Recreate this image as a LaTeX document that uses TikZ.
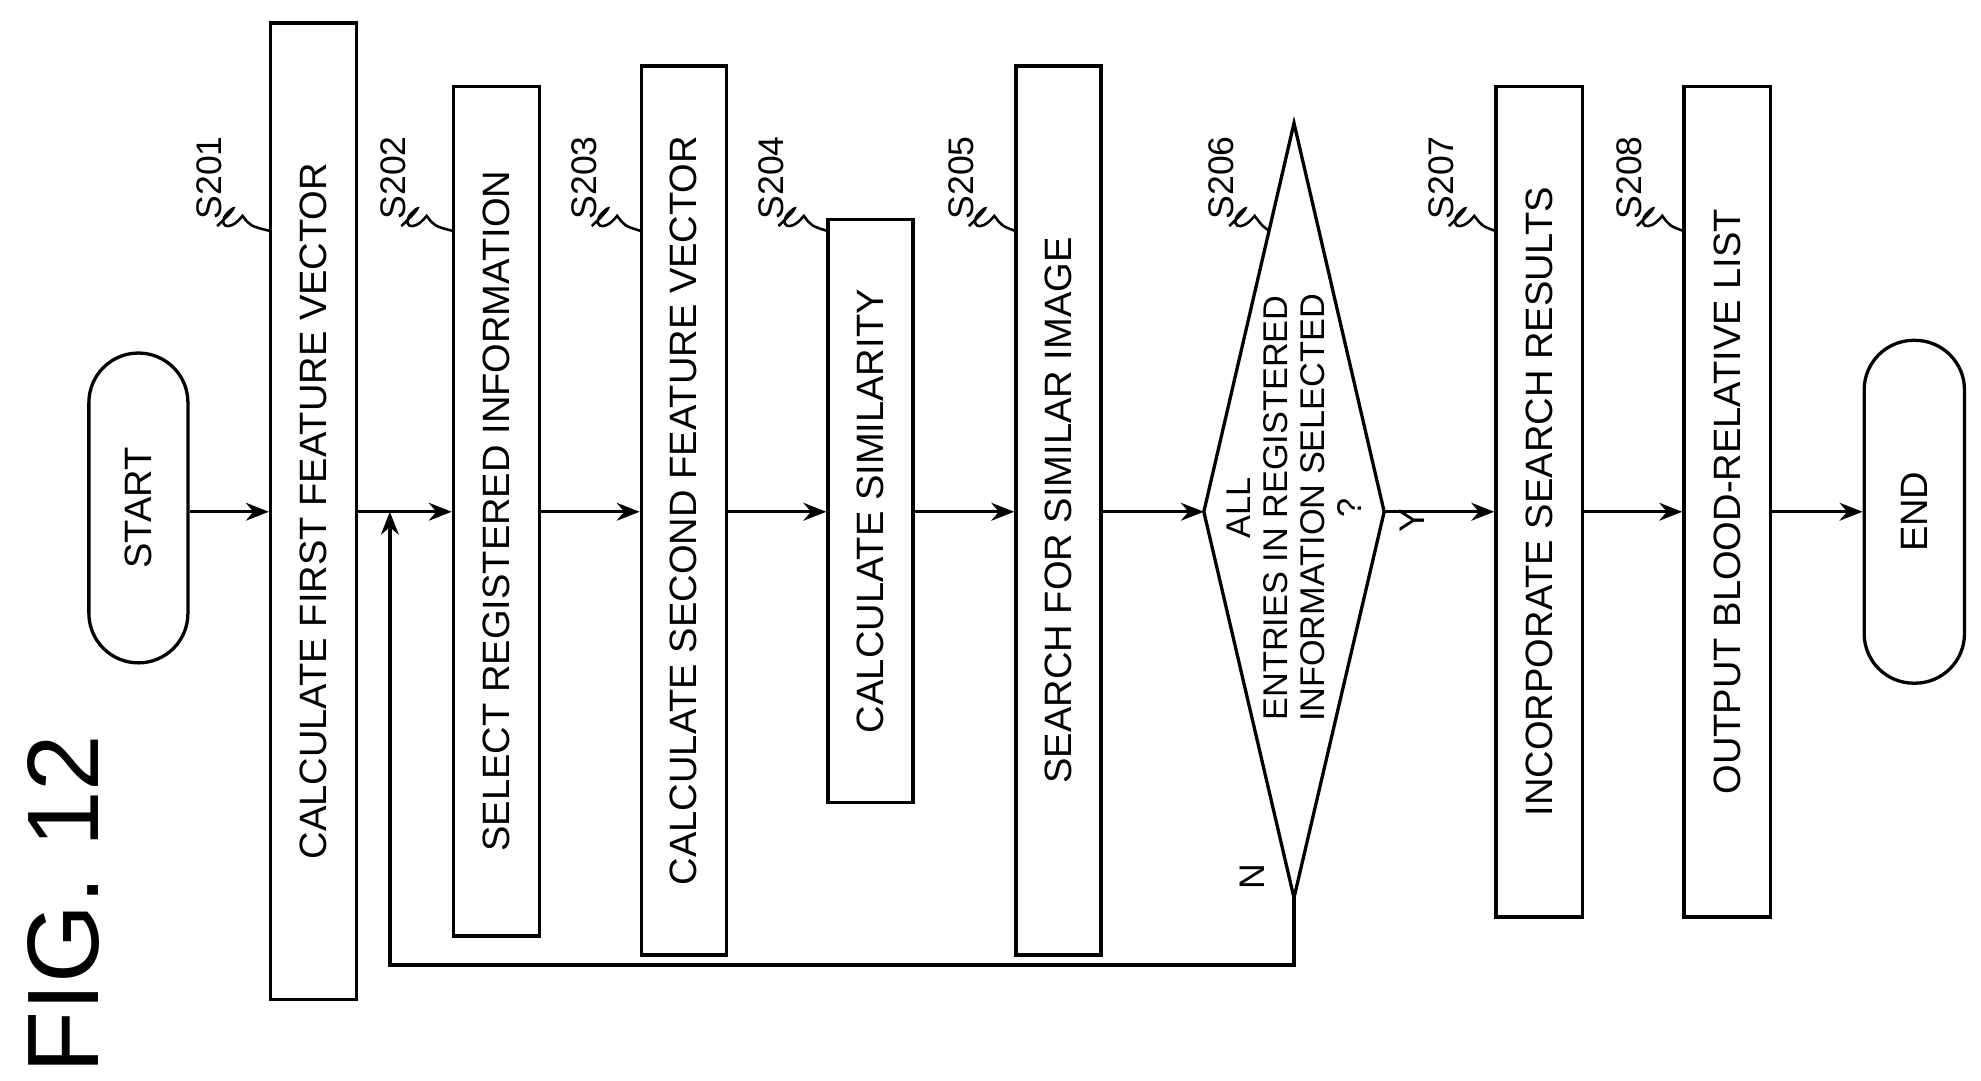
\documentclass[tikz,border=0pt]{standalone}
\usepackage{fontspec}
\setmainfont{Liberation Sans}
\usetikzlibrary{arrows.meta}
\begin{document}
\begin{tikzpicture}[x=0.5pt,y=-0.5pt,
  box/.style={draw,line width=1.3pt,rotate=90,inner sep=0pt,font=\fontsize{15}{18}\selectfont,align=center},
  term/.style={box,rounded corners=19.5pt},
  lbl/.style={rotate=90,font=\fontsize{14}{16}\selectfont,anchor=center},
  ar/.style={line width=1.3pt,-{Stealth[length=9pt,width=7pt]}},
  sq/.style={line width=1pt}]
\useasboundingbox (0,0) rectangle (1560,851);
\node[rotate=90,font=\fontsize{40}{46}\selectfont] (fig) at (50,712) {FIG. 12};
\node[term,minimum width=244*0.5pt,minimum height=78*0.5pt] (start) at (109,400) {START};
\node[box,minimum width=769*0.5pt,minimum height=68*0.5pt] (s1) at (247,402.5) {CALCULATE FIRST FEATURE VECTOR};
\node[box,minimum width=669*0.5pt,minimum height=68*0.5pt] (s2) at (391,402.5) {SELECT REGISTERED INFORMATION};
\node[box,minimum width=700*0.5pt,minimum height=67*0.5pt] (s3) at (538.5,402) {CALCULATE SECOND FEATURE VECTOR};
\node[box,minimum width=459*0.5pt,minimum height=67*0.5pt] (s4) at (685.5,402.5) {CALCULATE SIMILARITY};
\node[box,minimum width=700*0.5pt,minimum height=67*0.5pt] (s5) at (833.5,402) {SEARCH FOR SIMILAR IMAGE};
\coordinate (dl) at (948,403); \coordinate (dr) at (1090,403);
\coordinate (dt) at (1019,97); \coordinate (db) at (1019,707);
\draw[line width=1.3pt] (dl)--(dt)--(dr)--(db)--cycle;
\node[rotate=90,font=\fontsize{13.5}{14.5}\selectfont,align=center,inner sep=0pt] (dtxt) at (1019,400) {ALL\\ENTRIES IN REGISTERED\\INFORMATION SELECTED\\?};
\node[box,minimum width=654*0.5pt,minimum height=68*0.5pt] (s7) at (1212,395) {INCORPORATE SEARCH RESULTS};
\node[box,minimum width=654*0.5pt,minimum height=68*0.5pt] (s8) at (1360,395) {OUTPUT BLOOD-RELATIVE LIST};
\node[term,minimum width=270*0.5pt,minimum height=79*0.5pt] (end) at (1507.5,403) {END};
\draw[ar] (start.south |- 0,403) -- (s1.north |- 0,403);
\draw[ar] (s1.south |- 0,403) -- (s2.north |- 0,403);
\draw[ar] (s2.south |- 0,403) -- (s3.north |- 0,403);
\draw[ar] (s3.south |- 0,403) -- (s4.north |- 0,403);
\draw[ar] (s4.south |- 0,403) -- (s5.north |- 0,403);
\draw[ar] (s5.south |- 0,403) -- (dl);
\draw[ar] (dr) -- (s7.north |- 0,403);
\draw[ar] (s7.south |- 0,403) -- (s8.north |- 0,403);
\draw[ar] (s8.south |- 0,403) -- (end.north |- 0,403);
\coordinate (lp) at (307,403);
\draw[ar] (db) -- (1019,760) -- (307,760) -- (lp);
\node[lbl] (nl) at (986,690) {N};
\node[lbl] (yl) at (1112,410) {Y};
\foreach \n/\x/\bx in {S201/165/213,S202/310/357,S203/460/505,S204/607/652,S205/757/800,S206/962/1000,S207/1135/1178,S208/1283/1326}{
  \node[lbl] (l\n) at (\x,140) {\n};
  \draw[sq] (\x+6,178) .. controls (\x+20,165) and (\x+22,160) .. (\x+14,168)
     .. controls (\x+6,176) and (\x+14,185) .. (\x+26,170)
     .. controls (\x+32,178) .. (\bx,182);
}
\end{tikzpicture}
\end{document}
